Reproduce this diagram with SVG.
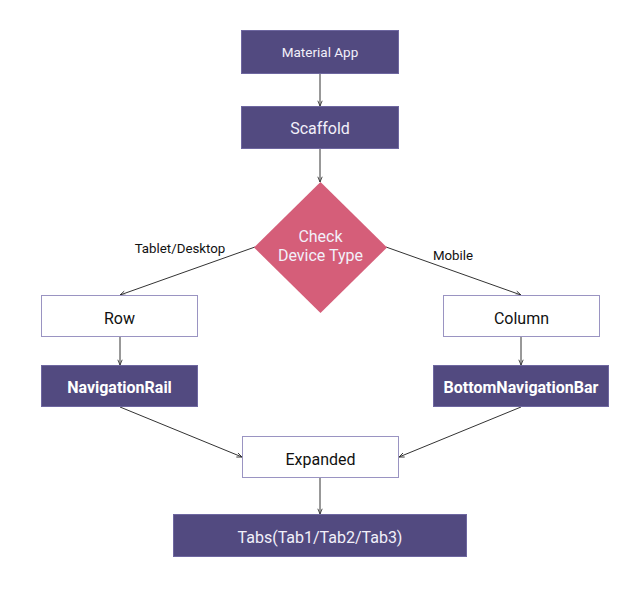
<svg xmlns="http://www.w3.org/2000/svg" width="641" height="594" viewBox="0 0 641 594">
<defs>
<marker id="ah" viewBox="0 0 8 8" refX="7" refY="4" markerWidth="7" markerHeight="7" markerUnits="userSpaceOnUse" orient="auto">
<path d="M1,1.5 L7,4 L1,6.5" fill="none" stroke="#333" stroke-width="1"/>
</marker>
</defs>
<style>
.dark{fill:#524a80;stroke:#6e67a0;stroke-width:1}
.light{fill:#fff;stroke:#9a94c2;stroke-width:1}
.t{font-family:Roboto,"Liberation Sans",sans-serif;text-anchor:middle;dominant-baseline:central}
.w{fill:#f2f0fa}
.k{fill:#111}
.e{fill:none;stroke:#333;stroke-width:1;marker-end:url(#ah)}
</style>
<rect width="641" height="594" fill="#fff"/>
<g id="connectors">
<line class="e" x1="320" y1="74" x2="320" y2="106"/>
<line class="e" x1="320" y1="149" x2="320" y2="182"/>
<line class="e" x1="255" y1="247" x2="120" y2="295"/>
<line class="e" x1="386" y1="247" x2="521" y2="295"/>
<line class="e" x1="120" y1="337" x2="120" y2="365"/>
<line class="e" x1="521" y1="337" x2="521" y2="365"/>
<line class="e" x1="120" y1="407" x2="242" y2="457"/>
<line class="e" x1="521" y1="407" x2="399" y2="457"/>
<line class="e" x1="320" y1="478" x2="320" y2="514"/>
<text class="t k" x="180" y="248" font-size="13.3">Tablet/Desktop</text>
<text class="t k" x="453" y="255" font-size="13.3">Mobile</text>
</g>
<g id="material-app">
<rect class="dark" x="241.5" y="30.5" width="157" height="43"/>
<text class="t w" x="320" y="52" font-size="13.5">Material App</text>
</g>
<g id="scaffold">
<rect class="dark" x="241.5" y="106.5" width="157" height="42"/>
<text class="t w" x="320" y="128" font-size="16">Scaffold</text>
</g>
<g id="check-device">
<polygon points="320.5,182 387,247.5 320.5,313 254,247.5" fill="#d55e79"/>
<text class="t w" x="320.5" y="236" font-size="16">Check</text>
<text class="t w" x="320.5" y="255" font-size="16">Device Type</text>
</g>
<g id="row">
<rect class="light" x="41.5" y="295.5" width="156" height="41"/>
<text class="t k" x="119.5" y="318" font-size="16">Row</text>
</g>
<g id="navigation-rail">
<rect class="dark" x="41.5" y="365.5" width="156" height="41"/>
<text class="t" x="119.5" y="387" font-size="16" font-weight="bold" fill="#fff">NavigationRail</text>
</g>
<g id="column">
<rect class="light" x="443.5" y="295.5" width="156" height="41"/>
<text class="t k" x="521.5" y="318" font-size="16">Column</text>
</g>
<g id="bottom-navigation-bar">
<rect class="dark" x="433.5" y="365.5" width="175" height="41"/>
<text class="t" x="521" y="387" font-size="16" font-weight="bold" fill="#fff">BottomNavigationBar</text>
</g>
<g id="expanded">
<rect class="light" x="242.5" y="436.5" width="156" height="41"/>
<text class="t k" x="320.5" y="459" font-size="16">Expanded</text>
</g>
<g id="tabs">
<rect class="dark" x="173.5" y="514.5" width="293" height="42"/>
<text class="t w" x="320" y="537" font-size="16">Tabs(Tab1/Tab2/Tab3)</text>
</g>
</svg>
